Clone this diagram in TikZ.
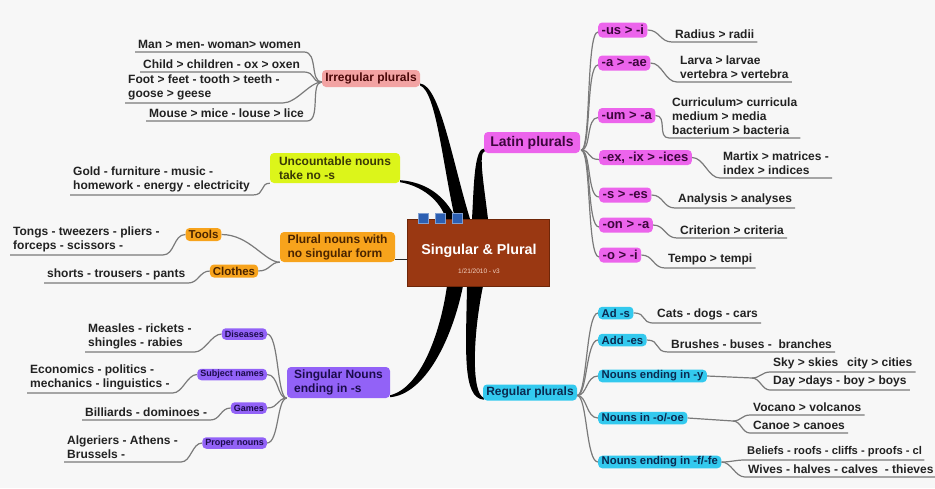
\documentclass[tikz,border=0pt]{standalone}
\usepackage{fontspec}
\setmainfont{Liberation Sans}
\usetikzlibrary{calc}
\definecolor{bgc}{HTML}{F7F7F7}
\definecolor{leafc}{HTML}{222222}
\definecolor{connc}{HTML}{7A7A7A}
\definecolor{irrc}{HTML}{F2A3A3}
\definecolor{irrt}{HTML}{4A0808}
\definecolor{latc}{HTML}{EC64EC}
\definecolor{latt}{HTML}{3C063C}
\definecolor{uncc}{HTML}{DCF51A}
\definecolor{unct}{HTML}{3A3A05}
\definecolor{orc}{HTML}{F7A31C}
\definecolor{ort}{HTML}{4A2400}
\definecolor{purc}{HTML}{9262F7}
\definecolor{purt}{HTML}{1C0C4C}
\definecolor{regc}{HTML}{33C9EE}
\definecolor{regt}{HTML}{0A2A50}
\definecolor{rootc}{HTML}{9A3812}
\definecolor{rootd}{HTML}{6E2608}
\definecolor{rootlt}{HTML}{F2D2C2}
\definecolor{sqc}{HTML}{2C5FB2}
\pgfdeclarelayer{back}
\pgfsetlayers{back,main}
\begin{document}
\begin{tikzpicture}[x=1pt,y=-1pt,
  leaf/.style={font=\bfseries\fontsize{12}{14}\selectfont, text=leafc, inner xsep=3pt, inner ysep=3pt, align=left, anchor=south west},
  conn/.style={draw=connc, line width=1.2pt},
  bigbox/.style={rounded corners=4pt, inner sep=2pt, font=\bfseries\fontsize{12}{14}\selectfont, align=left},
  latsub/.style={rounded corners=4pt, fill=latc, text=latt, font=\bfseries\fontsize{13}{15}\selectfont, inner xsep=3.5pt, inner ysep=1pt, minimum height=15pt, anchor=west},
  regsub/.style={rounded corners=4pt, fill=regc, text=regt, font=\bfseries\fontsize{11.3}{13}\selectfont, inner xsep=3.5pt, inner ysep=1pt, minimum height=12.5pt, anchor=west},
  pursub/.style={rounded corners=4pt, fill=purc, text=purt, font=\bfseries\fontsize{9}{10}\selectfont, inner xsep=3pt, inner ysep=0.5pt, minimum height=11.5pt, anchor=east},
  orsub/.style={rounded corners=4pt, fill=orc, text=ort, font=\bfseries\fontsize{11.5}{13}\selectfont, inner xsep=3pt, inner ysep=1pt, minimum height=13pt},
  sqbox/.style={fill=sqc, draw=sqc!60!white, line width=0.5pt, minimum size=10pt, inner sep=0pt},
  branch/.style={fill=black}
]
\useasboundingbox (0,0) rectangle (935,488);
\begin{pgfonlayer}{back}
\fill[bgc] (0,0) rectangle (935,488);
\end{pgfonlayer}

% main nodes
\node[draw=rootd, fill=rootc, minimum width=142pt, minimum height=67pt, line width=0.6pt] (root) at (478,252.5) {};
\node[font=\bfseries\fontsize{14.3}{16}\selectfont, text=white] (title) at (479,251) {Singular \& Plural};
\node[font=\fontsize{6.5}{8}\selectfont, text=rootlt] (date) at (479,271) {1/21/2010 - v3};
\node[sqbox] (sq1) at (423,218) {};
\node[sqbox] (sq2) at (440,218) {};
\node[sqbox] (sq3) at (457,218) {};

\node[bigbox, fill=irrc, text=irrt, minimum width=98pt, minimum height=17pt] (irr) at (371,78.5) {Irregular plurals};
\node[bigbox, fill=latc, text=latt, font=\bfseries\fontsize{14}{16}\selectfont, minimum width=96pt, minimum height=21pt] (latin) at (532,142.5) {Latin plurals};
\node[bigbox, fill=uncc, text=unct, minimum width=130pt, minimum height=30pt] (unc) at (335,168) {Uncountable nouns\\take no -s};
\node[bigbox, fill=orc, text=ort, minimum width=115pt, minimum height=30pt] (plural) at (337.5,247) {Plural nouns with\\no singular form};
\node[bigbox, fill=purc, text=purt, minimum width=103pt, minimum height=31pt] (sing) at (338.5,382.5) {Singular Nouns\\ending in -s};
\node[bigbox, fill=regc, text=regt, minimum width=94pt, minimum height=16pt] (reg) at (530,392.5) {Regular plurals};

% thick branches
\coordinate (irrB1) at (455,219); \coordinate (irrB2) at (470,219);
\coordinate (latB1) at (472,219); \coordinate (latB2) at (488,219);
\coordinate (uncB1) at (446,219); \coordinate (uncB2) at (456,219);
\coordinate (singB1) at (447,286); \coordinate (singB2) at (463,286);
\coordinate (regB1) at (467,286); \coordinate (regB2) at (483,286);
\begin{pgfonlayer}{back}
\fill[branch] ($(irr.east)+(0,5)$) .. controls (440,86) and (452,160) .. (irrB2) -- (irrB1) .. controls (442,160) and (436,92) .. ($(irr.east)+(0,7)$) -- cycle;
\fill[branch] ($(latin.south west)+(1,-5)$) .. controls (474,148) and (474,185) .. (latB1) -- (latB2) .. controls (484,185) and (478,152) .. ($(latin.south west)+(1,-2)$) -- cycle;
\fill[branch] ($(unc.south east)+(0,-3)$) .. controls (425,182) and (445,195) .. (uncB2) -- (uncB1) .. controls (440,200) and (422,186) .. ($(unc.south east)+(0,-1)$) -- cycle;
\fill[branch] (singB2) .. controls (452,340) and (425,394) .. ($(sing.south east)+(0,-1)$) -- ($(sing.south east)+(0,-3)$) .. controls (420,388) and (440,335) .. (singB1) -- cycle;
\fill[branch] (regB1) .. controls (466,350) and (462,398) .. ($(reg.south west)+(1,-1)$) -- ($(reg.south west)+(1,-3)$) .. controls (472,394) and (472,340) .. (regB2) -- cycle;
\end{pgfonlayer}
\draw[black!85, line width=1.3pt] ($(plural.south east)+(0,-3)$) coordinate (pc) -- (pc -| root.west);

% irregular leaves
\node[leaf] (man) at (135,52) {Man > men- woman> women};
\node[leaf] (child) at (140,72) {Child > children - ox > oxen};
\node[leaf] (foot) at (125,103) {Foot > feet - tooth > teeth -\\goose > geese};
\node[leaf] (mouse) at (146,121) {Mouse > mice - louse > lice};
\coordinate (irrIn) at ($(irr.west)+(0,3.5)$);
\foreach \x in {man,child,foot,mouse}
  \draw[conn] (\x.south west) -- (\x.south east) .. controls +(14,0) and +(-12,0) .. (irrIn);

% uncountable
\node[leaf] (gold) at (70,195) {Gold - furniture - music -\\homework - energy - electricity};
\draw[conn] (gold.south west) -- (gold.south east) .. controls +(12,0) and +(-10,0) .. (unc.south west);

% plural nouns
\node[orsub] (tools) at (203.5,234.5) {Tools};
\node[orsub] (clothes) at (234,271) {Clothes};
\node[leaf] (tongs) at (10,255) {Tongs - tweezers - pliers -\\forceps - scissors -};
\node[leaf] (shorts) at (44,283) {shorts - trousers - pants};
\draw[conn] (tongs.south west) -- (tongs.south east) .. controls +(12,0) and +(-12,0) .. (tools.west);
\draw[conn] (shorts.south west) -- (shorts.south east) .. controls +(10,0) and +(-10,0) .. (clothes.west);
\draw[conn] (tools.east) .. controls +(28,0) and +(-15,0) .. (plural.south west);
\draw[conn] (clothes.east) .. controls +(12,0) and +(-10,0) .. (plural.south west);

% singular nouns
\node[pursub] (dis) at (267,334) {Diseases};
\node[pursub] (subj) at (267,374.5) {Subject names};
\node[pursub] (games) at (267,408) {Games};
\node[pursub] (proper) at (267,443) {Proper nouns};
\foreach \x in {dis,subj,games,proper}
  \draw[conn] (\x.east) .. controls +(12,0) and +(-10,0) .. (sing.south west);
\node[leaf] (measles) at (85,352) {Measles - rickets -\\shingles - rabies};
\node[leaf] (econ) at (27,393) {Economics - politics -\\mechanics - linguistics -};
\node[leaf] (bill) at (82,420) {Billiards - dominoes -};
\node[leaf] (alg) at (64,462) {Algeriers - Athens -\\Brussels -};
\draw[conn] (measles.south west) -- (measles.south east) .. controls +(10,0) and +(-10,0) .. (dis.west);
\draw[conn] (econ.south west) -- (econ.south east) .. controls +(10,0) and +(-10,0) .. (subj.west);
\draw[conn] (bill.south west) -- (bill.south east) .. controls +(10,0) and +(-10,0) .. (games.west);
\draw[conn] (alg.south west) -- (alg.south east) .. controls +(10,0) and +(-10,0) .. (proper.west);

% latin
\node[latsub] (lus) at (598,30) {-us > -i};
\node[latsub] (lae) at (598,63) {-a > -ae};
\node[latsub] (lum) at (598,115.5) {-um > -a};
\node[latsub] (lex) at (599,157.5) {-ex, -ix > -ices};
\node[latsub] (les) at (599,195) {-s > -es};
\node[latsub] (lon) at (599,225) {-on > -a};
\node[latsub] (lo) at (599,255) {-o > -i};
\coordinate (latO) at ($(latin.south east)+(1,-3)$);
\foreach \x in {lus,lae,lum,lex,les,lon,lo}
  \draw[conn] (latO) .. controls +(10,0) and +(-12,0) .. ($(\x.west)+(0,2)$);
\node[leaf] (radius) at (672,42) {Radius > radii};
\node[leaf] (larva) at (677,82) {Larva > larvae\\vertebra > vertebra};
\node[leaf] (curr) at (669,138) {Curriculum> curricula\\medium > media\\bacterium > bacteria};
\node[leaf] (martix) at (720,178) {Martix > matrices -\\index > indices};
\node[leaf] (analysis) at (675,208) {Analysis > analyses};
\node[leaf] (crit) at (677,238) {Criterion > criteria};
\node[leaf] (tempo) at (665,268) {Tempo > tempi};
\draw[conn] (lus.east) .. controls +(12,0) and +(-12,0) .. (radius.south west) -- (radius.south east);
\draw[conn] (lae.east) .. controls +(12,0) and +(-12,0) .. (larva.south west) -- (larva.south east);
\draw[conn] (lum.east) .. controls +(12,0) and +(-12,0) .. (curr.south west) -- (curr.south east);
\draw[conn] (lex.east) .. controls +(12,0) and +(-12,0) .. (martix.south west) -- (martix.south east);
\draw[conn] (les.east) .. controls +(12,0) and +(-12,0) .. (analysis.south west) -- (analysis.south east);
\draw[conn] (lon.east) .. controls +(12,0) and +(-12,0) .. (crit.south west) -- (crit.south east);
\draw[conn] (lo.east) .. controls +(12,0) and +(-12,0) .. (tempo.south west) -- (tempo.south east);

% regular
\node[regsub] (ads) at (598,313) {Ad -s};
\node[regsub] (addes) at (598,340) {Add -es};
\node[regsub] (ny) at (598,376) {Nouns ending in -y};
\node[regsub] (no) at (598,418) {Nouns in -o/-oe};
\node[regsub] (nf) at (598,462) {Nouns ending in -f/-fe};
\coordinate (regO) at ($(reg.east)+(0,3)$);
\foreach \x in {ads,addes,ny,no,nf}
  \draw[conn] (regO) .. controls +(10,0) and +(-12,0) .. (\x.west);
\node[leaf] (cats) at (654,323) {Cats - dogs - cars};
\node[leaf] (brushes) at (668,352) {Brushes - buses -\ \ branches};
\node[leaf] (sky) at (770,372) {Sky > skies\hspace{9pt}city > cities};
\node[leaf] (day) at (770,390) {Day >days - boy > boys};
\node[leaf] (vocano) at (750,415) {Vocano > volcanos};
\node[leaf] (canoe) at (750,433) {Canoe > canoes};
\node[leaf, font=\bfseries\fontsize{11.2}{13}\selectfont, inner xsep=2pt] (beliefs) at (745,460) {Beliefs - roofs - cliffs - proofs - cl};
\node[leaf] (wives) at (745,477) {Wives - halves - calves\ \ - thieves};
\coordinate (splY) at (752,378);
\coordinate (splO) at (733,421);
\draw[conn] (ads.east) .. controls +(14,0) and +(-14,0) .. (cats.south west) -- (cats.south east);
\draw[conn] (addes.east) .. controls +(14,0) and +(-14,0) .. (brushes.south west) -- (brushes.south east);
\draw[conn] (ny.east) -- (splY) .. controls +(8,0) and +(-8,0) .. (sky.south west) -- (sky.south east);
\draw[conn] (splY) .. controls +(8,0) and +(-8,0) .. (day.south west) -- (day.south east);
\draw[conn] (no.east) -- (splO) .. controls +(8,0) and +(-8,0) .. (vocano.south west) -- (vocano.south east);
\draw[conn] (splO) .. controls +(8,0) and +(-8,0) .. (canoe.south west) -- (canoe.south east);
\draw[conn] (nf.east) .. controls +(10,0) and +(-10,0) .. (beliefs.south west) -- (beliefs.south east);
\draw[conn] (nf.east) .. controls +(10,0) and +(-10,0) .. (wives.south west) -- (wives.south east);
\end{tikzpicture}
\end{document}
